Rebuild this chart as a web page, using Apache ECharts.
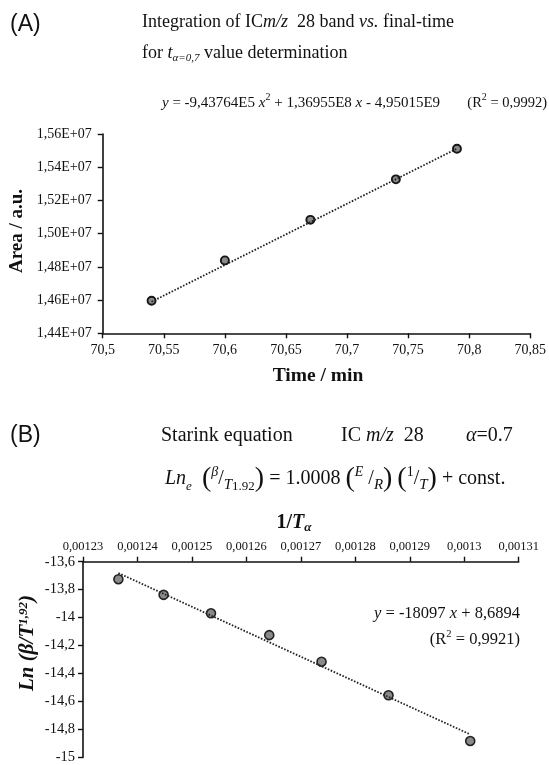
<!DOCTYPE html>
<html>
<head>
<meta charset="utf-8">
<script src="https://cdn.jsdelivr.net/npm/echarts@6/dist/echarts.min.js"></script>
<style>
html,body{margin:0;padding:0;background:#fff;}
#chart{width:549px;height:765px;}
</style>
</head>
<body>
<div id="chart"></div>
<script>
// ---- Panel A data ----
const timeA = [70.54, 70.60, 70.67, 70.74, 70.79];
const areaA = [1.4596e7, 1.4839e7, 1.5083e7, 1.5327e7, 1.5511e7];
const trendAx = [70.54, 70.79];
const trendAy = [1.4590e7, 1.5512e7];
const ticksA_x = {min: 70.5, max: 70.85, step: 0.05};
const ticksA_y = {min: 1.44e7, max: 1.56e7, step: 2e5};

// ---- Panel B data ----
const invT = [0.0012365, 0.0012448, 0.0012535, 0.0012642, 0.0012738, 0.0012861, 0.0013011];
const lnB = [-13.725, -13.837, -13.969, -14.125, -14.315, -14.555, -14.882];
const trendBx = [0.0012365, 0.0013011];
const trendBy = [-13.681, -14.835];
const ticksB_x = {min: 0.00123, max: 0.00131, step: 0.00001};
const ticksB_y = {min: -15, max: -13.6, step: 0.2};

const SERIF = '"Liberation Serif", "Times New Roman", serif';
const SANS = '"Liberation Sans", Arial, sans-serif';

const zip = (a, b) => a.map((v, i) => [v, b[i]]);

const chart = echarts.init(document.getElementById('chart'), null, {renderer: 'canvas'});

const axisCommon = {
  axisLine: {show: true, onZero: false, lineStyle: {color: '#111', width: 1.6}},
  axisTick: {show: true, length: 5, lineStyle: {color: '#111', width: 1.4}},
  splitLine: {show: false}
};

const rn = (fs, extra) => Object.assign({fontFamily: SERIF, fontSize: fs, color: '#111', lineHeight: 22}, extra || {});
const sup = (fs, extra) => Object.assign({fontFamily: SERIF, fontSize: fs, color: '#111', lineHeight: fs, verticalAlign: 'top'}, extra || {});
const sub = (fs, extra) => Object.assign({fontFamily: SERIF, fontSize: fs, color: '#111', lineHeight: fs, verticalAlign: 'bottom'}, extra || {});

function txt(x, y, text, rich, align, extra) {
  return Object.assign({
    type: 'text', x: x, y: y,
    style: {text: text, rich: rich, align: align || 'left', verticalAlign: 'middle', fill: '#111', font: '18px ' + SERIF}
  }, extra || {});
}

const option = {
  animation: false,
  backgroundColor: '#fff',
  grid: [
    {left: 102.7, top: 134, width: 428.5, height: 199.3, containLabel: false},
    {left: 83, top: 561.7, width: 435.7, height: 201, containLabel: false}
  ],
  xAxis: [
    Object.assign({}, axisCommon, {
      type: 'value', gridIndex: 0, position: 'bottom',
      min: ticksA_x.min, max: ticksA_x.max, interval: ticksA_x.step,
      axisLabel: {fontFamily: SERIF, fontSize: 14, color: '#111', margin: 10, showMinLabel: true, showMaxLabel: true,
        formatter: v => parseFloat(v.toFixed(3)).toString().replace('.', ',')}
    }),
    Object.assign({}, axisCommon, {
      type: 'value', gridIndex: 1, position: 'top',
      min: ticksB_x.min, max: ticksB_x.max, interval: ticksB_x.step,
      axisLabel: {fontFamily: SERIF, fontSize: 12.5, color: '#111', margin: 8, showMinLabel: true, showMaxLabel: true, hideOverlap: false,
        formatter: v => parseFloat(v.toFixed(6)).toString().replace('.', ',')}
    })
  ],
  yAxis: [
    Object.assign({}, axisCommon, {
      type: 'value', gridIndex: 0,
      min: ticksA_y.min, max: ticksA_y.max, interval: ticksA_y.step,
      axisLabel: {fontFamily: SERIF, fontSize: 14, color: '#111', margin: 11,
        formatter: v => (v / 1e7).toFixed(2).replace('.', ',') + 'E+07'}
    }),
    Object.assign({}, axisCommon, {
      type: 'value', gridIndex: 1,
      min: ticksB_y.min, max: ticksB_y.max, interval: ticksB_y.step,
      axisLabel: {fontFamily: SERIF, fontSize: 14.5, color: '#111', margin: 8,
        formatter: v => parseFloat(v.toFixed(2)).toString().replace('.', ',')}
    })
  ],
  series: [
    {
      type: 'line', xAxisIndex: 0, yAxisIndex: 0, data: zip(trendAx, trendAy),
      symbol: 'none', lineStyle: {color: '#222', width: 1.8, type: [1.6, 1.6]}, silent: true
    },
    {
      type: 'scatter', xAxisIndex: 0, yAxisIndex: 0, data: zip(timeA, areaA),
      symbol: 'circle', symbolSize: 8,
      itemStyle: {color: '#8a8a8a', borderColor: '#151515', borderWidth: 1.9, opacity: 1}
    },
    {
      type: 'line', xAxisIndex: 1, yAxisIndex: 1, data: zip(trendBx, trendBy),
      symbol: 'none', lineStyle: {color: '#222', width: 1.8, type: [1.6, 1.6]}, silent: true
    },
    {
      type: 'scatter', xAxisIndex: 1, yAxisIndex: 1, data: zip(invT, lnB),
      symbol: 'circle', symbolSize: 9,
      itemStyle: {color: '#8a8a8a', borderColor: '#222', borderWidth: 1.6, opacity: 1}
    }
  ],
  graphic: [
    // Panel labels
    txt(10, 25, '(A)', null, 'left', {style: {text: '(A)', font: '23px ' + SANS, fill: '#111', verticalAlign: 'middle'}}),
    txt(10, 436, '(B)', null, 'left', {style: {text: '(B)', font: '23px ' + SANS, fill: '#111', verticalAlign: 'middle'}}),
    // Panel A title
    txt(142, 22, '{n|Integration of IC}{i|m/z}{n|  28 band }{i|vs.}{n| final-time}',
      {n: rn(18), i: rn(18, {fontStyle: 'italic'})}),
    txt(142, 53, '{n|for }{i|t}{s|α=0,7}{n| value determination}',
      {n: rn(18), i: rn(18, {fontStyle: 'italic'}), s: sub(11, {fontStyle: 'italic'})}),
    txt(162, 103, '{i|y}{n| = -9,43764E5 }{i|x}{p|2}{n| + 1,36955E8 }{i|x}{n| - 4,95015E9}',
      {n: rn(15), i: rn(15, {fontStyle: 'italic'}), p: sup(10)}),
    txt(547, 103, '{n|(R}{p|2}{n| = 0,9992)}',
      {n: rn(14.5), p: sup(10)}, 'right'),
    // Axis titles A
    txt(17, 231, '{b|Area / a.u.}', {b: rn(19, {fontWeight: 'bold'})}, 'center', {rotation: Math.PI / 2}),
    txt(318, 376, '{b|Time / min}', {b: rn(19.5, {fontWeight: 'bold'})}, 'center'),
    // Panel B title
    txt(161, 436, '{n|Starink equation}', {n: rn(20)}),
    txt(341, 436, '{n|IC }{i|m/z}{n|  28}', {n: rn(20), i: rn(20, {fontStyle: 'italic'})}),
    txt(466, 436, '{i|α}{n|=0.7}', {n: rn(20), i: rn(20, {fontStyle: 'italic'})}),
    txt(165, 479,
      '{i|Ln}{se|e}{n|  }{P|(}{su|β}{n|/}{sb|T}{sbn|1.92}{P|)}{n| = 1.0008 }{P|(}{su|E}{n| /}{sb|R}{P|)}{n| }{P|(}{sun|1}{n|/}{sb|T}{P|)}{n| + const.}',
      {
        n: rn(20), i: rn(20, {fontStyle: 'italic'}),
        se: sub(13, {fontStyle: 'italic'}),
        P: rn(28, {lineHeight: 28}),
        su: sup(14, {fontStyle: 'italic'}),
        sun: sup(14),
        sb: sub(15, {fontStyle: 'italic'}),
        sbn: sub(13)
      }),
    txt(294, 523, '{b|1/}{bi|T}{s|α}',
      {b: rn(20, {fontWeight: 'bold'}), bi: rn(20, {fontWeight: 'bold', fontStyle: 'italic'}), s: sub(13, {fontWeight: 'bold', fontStyle: 'italic'})}, 'center'),
    // Panel B annotation
    txt(520, 614, '{i|y}{n| = -18097 }{i|x}{n| + 8,6894}', {n: rn(16.5), i: rn(16.5, {fontStyle: 'italic'})}, 'right'),
    txt(520, 640, '{n|(R}{p|2}{n| = 0,9921)}', {n: rn(16.5), p: sup(10.5)}, 'right'),
    // Axis title B (rotated)
    txt(28, 643, '{bi|Ln (β/T}{p|1,92}{bi|)}',
      {bi: rn(21, {fontWeight: 'bold', fontStyle: 'italic'}), p: sup(13, {fontWeight: 'bold', fontStyle: 'italic'})}, 'center', {rotation: Math.PI / 2})
  ]
};

chart.setOption(option);
</script>
</body>
</html>
